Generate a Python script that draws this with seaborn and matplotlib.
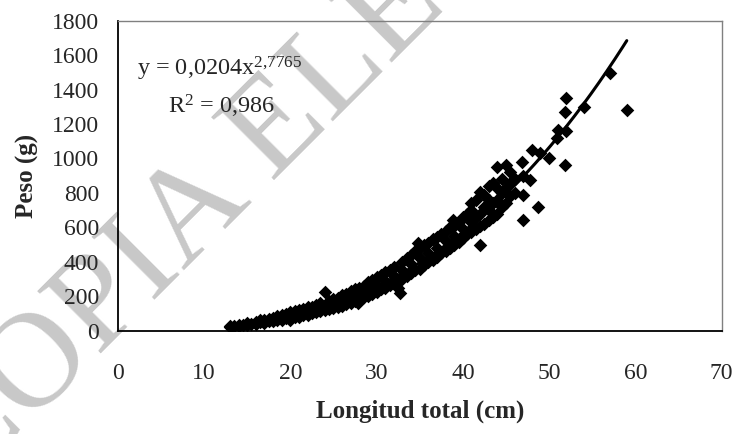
import numpy as np
import pandas as pd
import matplotlib.pyplot as plt
import seaborn as sns

sns.set_theme(style="white")
plt.rcParams["font.family"] = ["Liberation Serif", "DejaVu Serif"]
plt.rcParams["mathtext.fontset"] = "custom"
plt.rcParams["mathtext.rm"] = "Liberation Serif"

## DATA
longitud = [
    13.0, 13.0, 13.5, 14.0, 14.0, 14.5, 15.0, 15.0, 15.5, 16.0, 16.0, 16.5, 16.5, 17.0, 17.0,
    17.5, 17.5, 18.0, 18.0, 18.5, 18.5, 19.0, 19.0, 19.5, 19.5, 20.0, 20.0, 20.0, 20.5, 20.5,
    21.0, 21.0, 21.0, 21.5, 21.5, 22.0, 22.0, 22.0, 22.5, 22.5, 23.0, 23.0, 23.0, 23.5, 23.5,
    24.0, 24.0, 24.0, 24.5, 24.5, 25.0, 25.0, 25.0, 25.5, 25.5, 26.0, 26.0, 26.0, 26.5, 26.5,
    27.0, 27.0, 27.0, 27.5, 27.5, 27.9, 28.0, 28.0, 28.0, 28.5, 28.5, 29.0, 29.0, 29.0, 29.5, 29.5,
    30.0, 30.0, 30.0, 30.5, 30.5, 31.0, 31.0, 31.0, 31.5, 31.5, 32.0, 32.0, 32.0, 32.5, 32.5, 32.7,
    33.0, 33.0, 33.0, 33.5, 33.5, 34.0, 34.0, 34.0, 34.5, 34.5, 34.8, 35.0, 35.0, 35.0, 35.5, 35.5,
    36.0, 36.0, 36.0, 36.5, 36.5, 37.0, 37.0, 37.0, 37.5, 37.5, 38.0, 38.0, 38.0, 38.5, 38.5, 38.9,
    39.0, 39.0, 39.0, 39.5, 39.5, 40.0, 40.0, 40.0, 40.5, 40.5, 41.0, 41.0, 41.0, 41.0, 41.5, 41.5, 41.5,
    42.0, 42.0, 42.0, 42.0, 42.5, 42.5, 42.5, 43.0, 43.0, 43.0, 43.0, 43.5, 43.5, 43.5,
    44.0, 44.0, 44.0, 44.0, 44.5, 44.5, 44.5, 45.0, 45.0, 45.0, 45.5, 45.5, 45.5, 46.0, 46.0,
    46.8, 47.0, 47.0, 47.0, 47.8, 48.0, 48.7, 48.9, 50.0, 50.9, 51.0, 51.8, 51.8, 52.0, 52.0, 54.0, 57.0, 59.0,
]
peso = [
    22, 28, 30, 26, 36, 34, 32, 44, 40, 38, 52, 48, 60, 45, 62,
    56, 70, 55, 76, 64, 84, 62, 90, 72, 96, 65, 88, 108, 78, 112,
    82, 100, 120, 90, 126, 92, 112, 136, 100, 140, 106, 126, 150, 114, 160,
    118, 146, 226, 126, 170, 130, 156, 182, 140, 192, 145, 172, 205, 155, 215,
    160, 190, 228, 172, 240, 159, 185, 215, 250, 195, 262, 200, 240, 280, 215, 295,
    225, 260, 310, 240, 325, 250, 290, 340, 265, 350, 275, 320, 370, 290, 246, 217,
    300, 350, 400, 320, 420, 335, 390, 440, 350, 460, 507, 360, 420, 480, 380, 500,
    400, 450, 510, 410, 530, 430, 480, 545, 450, 560, 460, 520, 580, 480, 600, 643,
    500, 550, 610, 515, 630, 540, 590, 660, 560, 680, 575, 630, 700, 740, 590, 660, 760,
    497, 610, 680, 807, 620, 720, 790, 640, 700, 760, 840, 660, 740, 860,
    680, 760, 830, 950, 720, 800, 880, 740, 830, 962, 780, 860, 920, 800, 880,
    981, 643, 788, 900, 875, 1049, 720, 1030, 1005, 1117, 1165, 962, 1272, 1350, 1161, 1300, 1498, 1281,
]

# power trendline shown on the chart: y = 0,0204 x^2,7765 (R2 = 0,986)
A_COEF = 0.0204
B_EXP = 2.7765

df = pd.DataFrame({"longitud": longitud, "peso": peso})
x_fit = np.linspace(min(longitud), max(longitud), 200)
fit = pd.DataFrame({"longitud": x_fit, "peso": A_COEF * x_fit ** B_EXP})

fig = plt.figure(figsize=(7.38, 4.34), dpi=100)
ax = fig.add_axes([0.1595, 0.238, 0.8184, 0.7143])
ax.set_facecolor("none")

# watermark behind the chart
fig.text(-0.049, -0.129, "COPIA ELECTRÓNICA", rotation=45, rotation_mode="anchor",
         ha="left", va="baseline", fontsize=98, color="#c8c8c8", zorder=-1)

sns.scatterplot(data=df, x="longitud", y="peso", marker="D", s=48, color="black",
                edgecolor="black", linewidth=0, ax=ax, zorder=3)
sns.lineplot(data=fit, x="longitud", y="peso", color="black", linewidth=2.2, ax=ax, zorder=4)

ax.set_xlim(0, 70)
ax.set_ylim(0, 1800)
ax.set_xticks(range(0, 71, 10))
ax.set_yticks(range(0, 1801, 200))
ax.tick_params(axis="both", direction="out", length=5.5, width=1, color="black", labelsize=17)
ax.tick_params(axis="x", pad=18)
ax.tick_params(axis="y", pad=8)

for side in ["left", "bottom"]:
    ax.spines[side].set_color("black")
    ax.spines[side].set_linewidth(1.3)
for side in ["top", "right"]:
    ax.spines[side].set_color("#808080")
    ax.spines[side].set_linewidth(1.0)

ax.set_xlabel("Longitud total (cm)", fontsize=18, fontweight="bold", labelpad=11)
ax.set_ylabel("Peso (g)", fontsize=18, fontweight="bold", labelpad=9)

ax.text(2.2, 1479, r"y = 0,0204x$\mathregular{^{2{,}7765}}$", fontsize=17.5, va="baseline", ha="left")
ax.text(5.8, 1264, r"R$\mathregular{^{2}}$ = 0,986", fontsize=17.5, va="baseline", ha="left")

fig.savefig("out.png", dpi=100)
